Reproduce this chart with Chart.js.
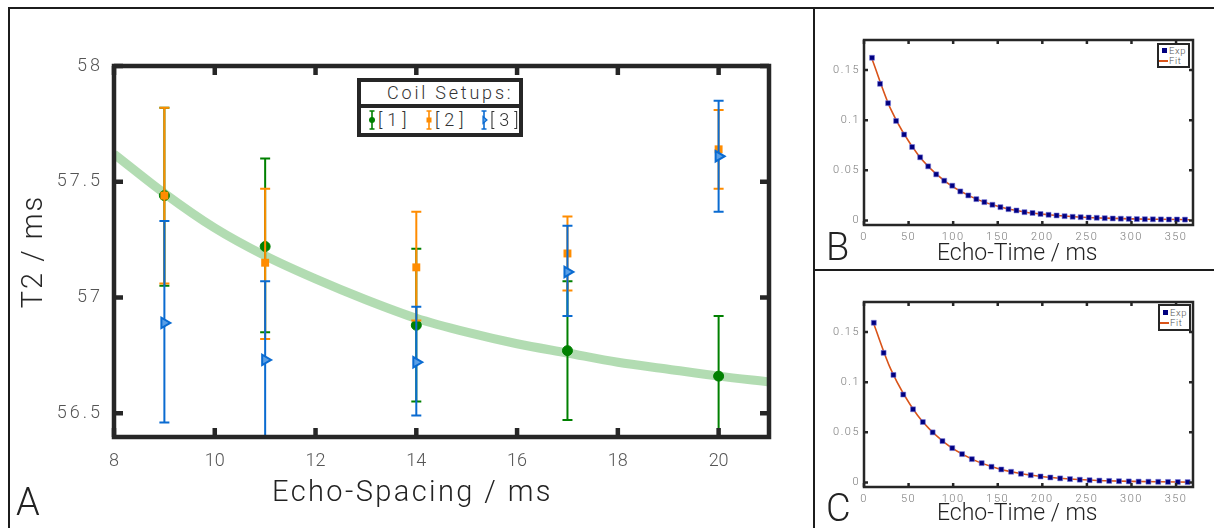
<!DOCTYPE html>
<html><head><meta charset="utf-8">
<script src="https://cdn.jsdelivr.net/npm/chart.js@4.4.1/dist/chart.umd.min.js"></script>
<style>
html,body{margin:0;padding:0;background:#fff;width:1214px;height:528px;overflow:hidden;font-family:Roboto,'DejaVu Sans',sans-serif;font-weight:300;}
.abs{position:absolute;}
.ln{position:absolute;background:#1c1c1c;}
.lbl{position:absolute;color:#222;font-weight:300;white-space:nowrap;line-height:1;}
</style></head><body>
<div class="abs" style="left:0;top:0"><canvas id="cA" width="813" height="528"></canvas></div>
<div class="abs" style="left:815px;top:10px"><canvas id="cB" width="399" height="258"></canvas></div>
<div class="abs" style="left:815px;top:271px"><canvas id="cC" width="399" height="257"></canvas></div>

<div class="ln" style="left:8px;top:7px;width:1206px;height:2px"></div>
<div class="ln" style="left:8px;top:7px;width:2px;height:521px"></div>
<div class="ln" style="left:813px;top:7px;width:2px;height:521px"></div>
<div class="ln" style="left:813px;top:269px;width:401px;height:2px"></div>

<div class="lbl" style="left:16px;top:483px;font-size:38px">A</div>
<div class="lbl" style="left:826px;top:228px;font-size:38px">B</div>
<div class="lbl" style="left:826px;top:489px;font-size:38px">C</div>
<div class="lbl" id="xtA" style="left:272px;top:477px;font-size:29px;letter-spacing:2.4px">Echo-Spacing / ms</div>
<div class="lbl" id="xtB" style="left:937px;top:241px;font-size:23px">Echo-Time / ms</div>
<div class="lbl" id="xtC" style="left:937px;top:501px;font-size:23px">Echo-Time / ms</div>

<!-- legend A -->
<div class="abs" style="left:357px;top:78px;width:166px;height:59px;box-sizing:border-box;border:4px solid #262626;background:#fff">
  <div style="position:absolute;left:0;top:0;width:158px;height:22px;border-bottom:4px solid #262626"></div>
  <div class="lbl" style="left:26px;top:2px;font-size:18px;letter-spacing:2.8px;color:#333">Coil Setups:</div>
  <svg class="abs" style="left:6px;top:27px" width="10" height="22" viewBox="0 0 10 22">
    <path d="M5 2V20M2.5 2H7.5M2.5 20H7.5" stroke="#008000" stroke-width="1.6" fill="none"/><circle cx="5" cy="11" r="3" fill="#008000"/></svg>
  <div class="lbl" style="left:17px;top:29px;font-size:18px;letter-spacing:5px;color:#333">[1]</div>
  <svg class="abs" style="left:63px;top:27px" width="10" height="22" viewBox="0 0 10 22">
    <path d="M5 2V20M2.5 2H7.5M2.5 20H7.5" stroke="#ff8c00" stroke-width="1.6" fill="none"/><rect x="2.5" y="8.5" width="5" height="5" fill="#ff8c00"/></svg>
  <div class="lbl" style="left:74px;top:29px;font-size:18px;letter-spacing:5px;color:#333">[2]</div>
  <svg class="abs" style="left:118px;top:27px" width="10" height="22" viewBox="0 0 10 22">
    <path d="M5 2V20M2.5 2H7.5M2.5 20H7.5" stroke="#0a6bd1" stroke-width="1.6" fill="none"/><path d="M4 7.5L8 11L4 14.5Z" fill="#5a9fe6" stroke="#0a6bd1" stroke-width="1.2"/></svg>
  <div class="lbl" style="left:129px;top:29px;font-size:18px;letter-spacing:5px;color:#333">[3]</div>
</div>

<!-- legends B, C -->
<div class="abs" style="left:1157px;top:43px;width:33px;height:25px;box-sizing:border-box;border:2px solid #262626;background:#fff">
  <div class="abs" style="left:3px;top:3px;width:5px;height:5px;background:#000080"></div>
  <div class="lbl" style="left:10px;top:1px;font-size:9.5px;color:#555;letter-spacing:0.6px">Exp</div>
  <div class="abs" style="left:0px;top:15px;width:9px;height:1.5px;background:#d95319"></div>
  <div class="lbl" style="left:10px;top:11px;font-size:9.5px;color:#555;letter-spacing:0.6px">Fit</div>
</div>
<div class="abs" style="left:1158px;top:304px;width:33px;height:27px;box-sizing:border-box;border:2px solid #262626;background:#fff">
  <div class="abs" style="left:3px;top:4px;width:5px;height:5px;background:#000080"></div>
  <div class="lbl" style="left:10px;top:2px;font-size:9.5px;color:#555;letter-spacing:0.6px">Exp</div>
  <div class="abs" style="left:0px;top:16px;width:9px;height:1.5px;background:#d95319"></div>
  <div class="lbl" style="left:10px;top:12px;font-size:9.5px;color:#555;letter-spacing:0.6px">Fit</div>
</div>

<script>
// ---------- Panel A data ----------
const echoSpacing = [9, 11, 14, 17, 20];
const coil1T2    = [57.44, 57.22, 56.88, 56.77, 56.66];
const coil1Upper = [57.82, 57.60, 57.21, 57.07, 56.92];
const coil1Lower = [57.05, 56.85, 56.55, 56.47, 56.40];
const coil2T2    = [57.44, 57.15, 57.13, 57.19, 57.64];
const coil2Upper = [57.82, 57.47, 57.37, 57.35, 57.81];
const coil2Lower = [57.06, 56.82, 56.90, 57.03, 57.47];
const coil3T2    = [56.89, 56.73, 56.72, 57.11, 57.61];
const coil3Upper = [57.33, 57.07, 56.96, 57.31, 57.85];
const coil3Lower = [56.46, 56.39, 56.49, 56.92, 57.37];
const fitSpacing = [8, 9, 10, 11, 12, 13, 14, 15, 16, 17, 18, 19, 20, 21];
const fitT2      = [57.62, 57.45, 57.30, 57.18, 57.08, 56.99, 56.91, 56.85, 56.80, 56.76, 56.72, 56.69, 56.66, 56.635];
const xTicksA = [8, 10, 12, 14, 16, 18, 20];
const yTicksA = [56.5, 57, 57.5, 58];
const yTickLabelsA = ['56.5', '57', '57.5', '58'];

// ---------- Panel B data ----------
const echoTimeB = [9,18,27,36,45,54,63,72,81,90,99,108,117,126,135,144,153,162,171,180,189,198,207,216,225,234,243,252,261,270,279,288,297,306,315,324,333,342,351,360];
const signalB = [0.1623,0.1363,0.1170,0.0993,0.0857,0.0733,0.0630,0.0540,0.0460,0.0397,0.0347,0.0290,0.0250,0.0213,0.0183,0.0157,0.0133,0.0113,0.0100,0.0083,0.0075,0.0065,0.0057,0.0050,0.0043,0.0037,0.0033,0.0030,0.0027,0.0023,0.0020,0.0018,0.0016,0.0014,0.0013,0.0012,0.0011,0.0010,0.0010,0.0009];
const fitTimeB = [9, 30, 60, 90, 120, 150, 180, 210, 240, 270, 300, 330, 365];
const fitSignalB = [0.1610, 0.1110, 0.0664, 0.0397, 0.0238, 0.0141, 0.0085, 0.0055, 0.0035, 0.0024, 0.0016, 0.0012, 0.0008];

// ---------- Panel C data ----------
const echoTimeC = [11,22,33,44,55,66,77,88,99,110,121,132,143,154,165,176,187,198,209,220,231,242,253,264,275,286,297,308,319,330,341,352,363];
const signalC = [0.1593,0.1293,0.1073,0.0877,0.0730,0.0603,0.0500,0.0413,0.0343,0.0283,0.0233,0.0193,0.0157,0.0130,0.0107,0.0087,0.0073,0.0060,0.0050,0.0041,0.0034,0.0028,0.0023,0.0019,0.0016,0.0013,0.0011,0.0009,0.0008,0.0007,0.0006,0.0005,0.0004];
const fitTimeC = [11, 30, 60, 90, 120, 150, 180, 210, 240, 270, 300, 330, 365];
const fitSignalC = [0.1580, 0.1130, 0.0670, 0.0400, 0.0238, 0.0140, 0.0083, 0.0050, 0.0030, 0.0018, 0.0011, 0.0007, 0.0004];

const xTicksBC = [0, 50, 100, 150, 200, 250, 300, 350];
const yTicksBC = [0, 0.05, 0.1, 0.15];
const yTickLabelsBC = ['0', '0.05', '0.1', '0.15'];

const pts = (xs, ys) => xs.map((x, i) => ({x, y: ys[i]}));

const errorBarPlugin = {
  id: 'errbars',
  beforeDatasetDraw(chart, args) {
    const ds = chart.data.datasets[args.index];
    if (!ds.errUpper) return;
    const {ctx, chartArea: a, scales: {x, y}} = chart;
    ctx.save();
    ctx.beginPath(); ctx.rect(a.left, a.top, a.right - a.left, a.bottom - a.top); ctx.clip();
    ctx.strokeStyle = ds.errColor; ctx.lineWidth = 2;
    ds.data.forEach((p, i) => {
      const px = x.getPixelForValue(p.x);
      const yt = y.getPixelForValue(ds.errUpper[i]);
      const yb = y.getPixelForValue(ds.errLower[i]);
      ctx.beginPath();
      ctx.moveTo(px, yt); ctx.lineTo(px, yb);
      ctx.moveTo(px - 5, yt); ctx.lineTo(px + 5, yt);
      ctx.moveTo(px - 5, yb); ctx.lineTo(px + 5, yb);
      ctx.stroke();
    });
    ctx.restore();
  }
};

const framePlugin = {
  id: 'frame',
  afterDraw(chart, args, opts) {
    const {ctx, chartArea: a, scales: {x, y}} = chart;
    ctx.save();
    ctx.strokeStyle = opts.color; ctx.lineWidth = opts.width;
    ctx.beginPath();
    x.ticks.forEach(t => {
      const px = x.getPixelForValue(t.value);
      ctx.moveTo(px, a.bottom); ctx.lineTo(px, a.bottom - opts.len);
      ctx.moveTo(px, a.top); ctx.lineTo(px, a.top + opts.len);
    });
    y.ticks.forEach(t => {
      const py = y.getPixelForValue(t.value);
      ctx.moveTo(a.left, py); ctx.lineTo(a.left + opts.len, py);
      ctx.moveTo(a.right, py); ctx.lineTo(a.right - opts.len, py);
    });
    ctx.stroke();
    ctx.strokeRect(a.left, a.top, a.right - a.left, a.bottom - a.top);
    ctx.restore();
  }
};

// letter-spaced tick labels / titles
function withSpacing(ctx, sp, fn) {
  const prev = ctx.letterSpacing;
  ctx.letterSpacing = sp;
  fn();
  ctx.letterSpacing = prev || '0px';
}
const spacingPlugin = {
  id: 'spacing',
  afterUpdate(chart, args, opts) {
    Object.values(chart.scales).forEach(s => {
      if (s._spWrapped) return;
      const sp = opts[s.id], spT = opts[s.id + 'Title'];
      if (sp) {
        const orig = s.drawLabels.bind(s);
        s.drawLabels = function (area) { withSpacing(chart.ctx, sp, () => orig(area)); };
      }
      if (spT) {
        const origT = s.drawTitle.bind(s);
        s.drawTitle = function (area) { withSpacing(chart.ctx, spT, () => origT(area)); };
      }
      s._spWrapped = true;
    });
  }
};

Chart.defaults.font.family = "Roboto, 'DejaVu Sans', sans-serif";
Chart.defaults.font.weight = '300';
Chart.defaults.animation = false;

new Chart(document.getElementById('cA'), {
  type: 'line',
  data: {
    datasets: [
      { label: '[1]', data: pts(echoSpacing, coil1T2), showLine: false, order: 3,
        pointStyle: 'circle', pointRadius: 5, pointBackgroundColor: '#008000', pointBorderColor: '#008000', pointBorderWidth: 1,
        errUpper: coil1Upper, errLower: coil1Lower, errColor: '#008000' },
      { label: '[2]', data: pts(echoSpacing, coil2T2), showLine: false, order: 2,
        pointStyle: 'rect', pointRadius: 5.6, pointBackgroundColor: '#ff8c00', pointBorderColor: '#ff8c00', pointBorderWidth: 0,
        errUpper: coil2Upper, errLower: coil2Lower, errColor: '#ff8c00' },
      { label: '[3]', data: pts(echoSpacing, coil3T2), showLine: false, order: 1,
        pointStyle: 'triangle', pointRotation: 90, pointRadius: 6, pointBackgroundColor: '#5a9fe6', pointBorderColor: '#0a6bd1', pointBorderWidth: 2,
        errUpper: coil3Upper, errLower: coil3Lower, errColor: '#0a6bd1' },
      { label: 'fit', data: pts(fitSpacing, fitT2), order: 10, borderColor: 'rgba(0,140,0,0.3)', borderWidth: 9,
        pointRadius: 0, cubicInterpolationMode: 'monotone', fill: false }
    ]
  },
  options: {
    responsive: false,
    layout: { padding: { left: 0, right: 44, top: 66, bottom: 0 } },
    plugins: { legend: { display: false }, tooltip: { enabled: false },
      frame: { color: '#262626', width: 4.5, len: 9 },
      spacing: { y: '3px', yTitle: '2px' } },
    scales: {
      x: { type: 'linear', min: 8, max: 21,
        afterBuildTicks: s => { s.ticks = xTicksA.map(v => ({value: v})); },
        afterFit: s => { s.height = 91; },
        grid: { display: false, drawTicks: false, tickLength: 0 }, border: { display: false },
        ticks: { color: '#555', font: { size: 18 }, padding: 14, maxRotation: 0, autoSkip: false } },
      y: { type: 'linear', min: 56.397, max: 58.0,
        afterBuildTicks: s => { s.ticks = yTicksA.map(v => ({value: v})); },
        afterFit: s => { s.width = 114; },
        grid: { display: false, drawTicks: false, tickLength: 0 }, border: { display: false },
        ticks: { color: '#555', font: { size: 18 }, padding: 11, autoSkip: false,
          callback: (v) => yTickLabelsA[yTicksA.indexOf(v)] ?? String(v) },
        title: { display: true, text: 'T2 / ms', color: '#262626', font: { size: 29 }, padding: { top: 17, bottom: 0 } } }
    }
  },
  plugins: [errorBarPlugin, framePlugin, spacingPlugin]
});

function decayChart(id, times, signal, fitTimes, fitSignal, padTop, xHeight) {
  new Chart(document.getElementById(id), {
    type: 'line',
    data: {
      datasets: [
        { label: 'Exp', data: pts(times, signal), showLine: false, order: 1,
          pointStyle: 'rect', pointRadius: 3.5, pointBackgroundColor: '#000080', pointBorderColor: 'rgba(120,120,220,0.55)', pointBorderWidth: 1 },
        { label: 'Fit', data: pts(fitTimes, fitSignal), order: 2, borderColor: '#d95319', borderWidth: 1.6,
          pointRadius: 0, cubicInterpolationMode: 'monotone', fill: false }
      ]
    },
    options: {
      responsive: false,
      layout: { padding: { left: 0, right: 21, top: padTop, bottom: 0 } },
      plugins: { legend: { display: false }, tooltip: { enabled: false },
        frame: { color: '#262626', width: 2.5, len: 4 },
        spacing: { x: '1.5px', y: '1.5px' } },
      scales: {
        x: { type: 'linear', min: 0, max: 369,
          afterBuildTicks: s => { s.ticks = xTicksBC.map(v => ({value: v})); },
          afterFit: s => { s.height = xHeight; },
          grid: { display: false, drawTicks: false, tickLength: 0 }, border: { display: false },
          ticks: { color: '#7a7a7a', font: { size: 11 }, padding: 6, maxRotation: 0, autoSkip: false } },
        y: { type: 'linear', min: -0.0045, max: 0.18,
          afterBuildTicks: s => { s.ticks = yTicksBC.map(v => ({value: v})); },
          afterFit: s => { s.width = 49; },
          grid: { display: false, drawTicks: false, tickLength: 0 }, border: { display: false },
          ticks: { color: '#7a7a7a', font: { size: 11 }, padding: 4, autoSkip: false,
            callback: v => yTickLabelsBC[yTicksBC.indexOf(v)] ?? String(v) } }
      }
    },
    plugins: [framePlugin, spacingPlugin]
  });
}
decayChart('cB', echoTimeB, signalB, fitTimeB, fitSignalB, 30, 43);
decayChart('cC', echoTimeC, signalC, fitTimeC, fitSignalC, 31, 41);
</script>
</body></html>
